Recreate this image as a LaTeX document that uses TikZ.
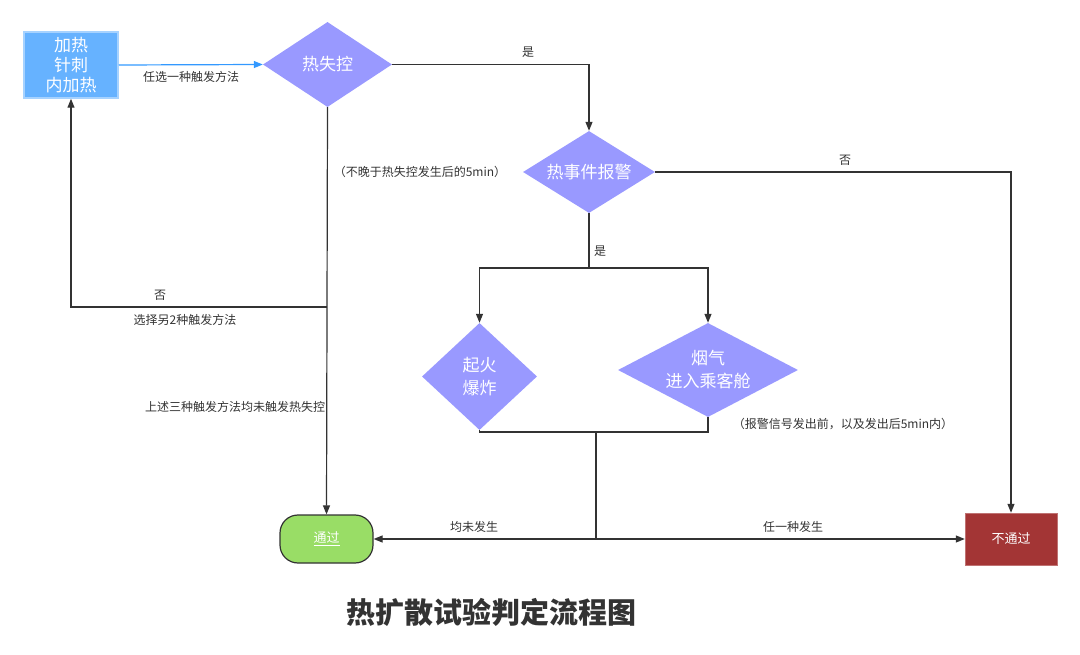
\documentclass[tikz,border=0pt]{standalone}
\usepackage{fontspec}
\setmainfont{Noto Sans CJK SC}
\usepackage{tikz}
\usetikzlibrary{shapes.geometric,arrows.meta}
\definecolor{dec}{HTML}{9999FF}
\definecolor{start}{HTML}{66B2FF}
\definecolor{startedge}{HTML}{A6D2FF}
\definecolor{pass}{HTML}{99DD66}
\definecolor{fail}{HTML}{A33535}
\definecolor{ink}{HTML}{333333}
\definecolor{link}{HTML}{3399FF}

\begin{document}
\begin{tikzpicture}[x=1pt,y=-1pt,
    line/.style={draw=ink,line width=1.2pt},
    arr/.style={line,-{Triangle[length=9pt,width=7pt]}},
    decision/.style={diamond,fill=dec,text=white,inner sep=0pt,align=center,
      font=\fontsize{17}{23}\selectfont},
    lbl/.style={text=ink,font=\fontsize{12}{14}\selectfont,inner sep=1pt}]
  \useasboundingbox (0,0) rectangle (1080,655);

  \path
  (71,65) node[draw=startedge,line width=1.5pt,fill=start,text=white,align=center,
    minimum width=94pt,minimum height=66pt,inner sep=0pt,
    font=\fontsize{17}{20}\selectfont] (heat) {加热\\针刺\\内加热}
  (327.5,64.5) node[decision,shape aspect=1.5,minimum width=129pt,minimum height=85pt] (runaway) {热失控}
  (589,172) node[decision,shape aspect=1.6,minimum width=132pt,minimum height=82pt] (alarm) {热事件报警}
  (479.5,376.5) node[decision,shape aspect=1.07,minimum width=115pt,minimum height=107pt] (fire) {起火\\爆炸}
  (708,370) node[decision,shape aspect=1.9,inner xsep=-10pt,minimum width=180pt,minimum height=94pt] (smoke) {烟气\\进入乘客舱}
  (326.5,539) node[draw=ink,line width=1.2pt,fill=pass,rounded corners=18pt,
    minimum width=93pt,minimum height=48pt,text=white,
    font=\fontsize{13}{15}\selectfont] (pass) {\underline{通过}}
  (1011,539) node[draw=fail!70!white,fill=fail,minimum width=92pt,minimum height=52pt,
    text=white,font=\fontsize{13}{15}\selectfont] (fail) {不通过}
  ;
  \coordinate (back) at (327,307);
  \coordinate (split) at (589,268);
  \coordinate (join) at (596,432);
  \coordinate (meet) at (596,539);

  \draw[line,draw=link,-{Triangle[length=9pt,width=7pt]}] (heat.east) -- (runaway.west);
  \draw[arr] (runaway.east) -| (alarm.north);
  \draw[arr] (alarm.east) -| (fail.north);
  \draw[line] (alarm.south) -- (split);
  \draw[arr] (split) -| (fire.north);
  \draw[arr] (split) -| (smoke.north);
  \draw[line] (fire.south) |- (join);
  \draw[line] (smoke.south) |- (join);
  \draw[line] (join) -- (meet);
  \draw[arr] (meet) -- (pass.east);
  \draw[arr] (meet) -- (fail.west);
  \draw[arr] (runaway.south) -- (pass.north);
  \draw[arr] (back) -| (heat.south);

  \path
  (191,77) node[lbl] (pick) {任选一种触发方法}
  (528,52) node[lbl] (yes1) {是}
  (845,160) node[lbl] (no1) {否}
  (600,251) node[lbl] (yes2) {是}
  (420,172) node[lbl] (limit) {（不晚于热失控发生后的5min）}
  (160,295) node[lbl] (no2) {否}
  (185,320) node[lbl] (other) {选择另2种触发方法}
  (235,407) node[lbl] (none) {上述三种触发方法均未触发热失控}
  (843,424) node[lbl] (window) {（报警信号发出前，以及发出后5min内）}
  (474,527) node[lbl] (neither) {均未发生}
  (793,527) node[lbl] (either) {任一种发生}
  (491,612) node[text=ink,font=\fontsize{29}{32}\selectfont\bfseries] (title) {热扩散试验判定流程图}
  ;
\end{tikzpicture}
\end{document}
